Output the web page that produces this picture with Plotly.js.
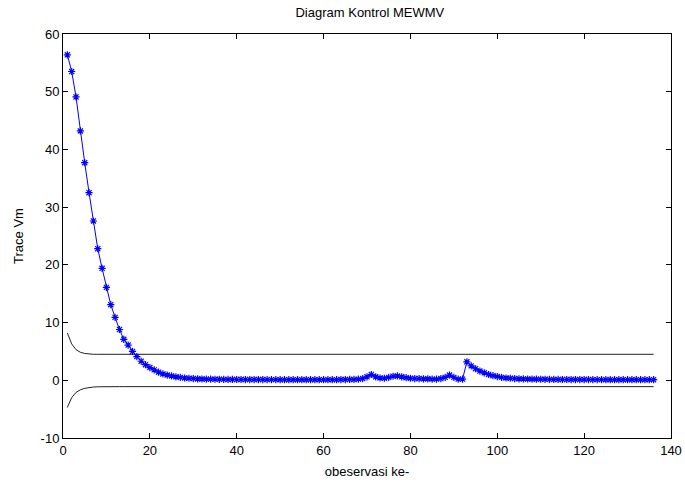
<!DOCTYPE html>
<html>
<head>
<meta charset="utf-8">
<script src="https://cdn.plot.ly/plotly-3.0.1.min.js"></script>
<style>html,body{margin:0;padding:0;background:#fff;}#chart{width:685px;height:488px;}</style>
</head>
<body>
<div id="chart"></div>
<script>
// Trace Vm statistic per observation (1..136)
var traceVm = [
  56.4,53.5,49.1,43.2,37.7,32.5,27.6,22.8,19.4,16.1,
  13.1,10.9,8.8,7.1,6.1,5.0,4.1,3.3,2.7,2.2,
  1.8,1.4,1.1,0.9,0.75,0.6,0.5,0.4,0.35,0.3,
  0.25,0.22,0.2,0.2,0.18,0.17,0.16,0.15,0.15,0.14,
  0.14,0.13,0.13,0.12,0.12,0.12,0.11,0.11,0.11,0.1,
  0.1,0.1,0.1,0.1,0.1,0.1,0.1,0.1,0.1,0.1,
  0.1,0.1,0.1,0.12,0.12,0.15,0.15,0.2,0.3,0.6,
  1.0,0.6,0.4,0.35,0.5,0.7,0.75,0.6,0.45,0.35,
  0.3,0.3,0.25,0.25,0.2,0.2,0.3,0.5,0.9,0.5,
  0.2,0.2,3.2,2.5,2.0,1.6,1.3,1.0,0.8,0.65,
  0.5,0.4,0.35,0.3,0.26,0.24,0.22,0.2,0.19,0.18,
  0.17,0.16,0.15,0.15,0.14,0.14,0.13,0.13,0.12,0.12,
  0.12,0.11,0.11,0.11,0.1,0.1,0.1,0.1,0.1,0.1,
  0.1,0.1,0.1,0.1,0.1,0.1
];
// Upper control limit
var ucl = [
  8.2,6.3,5.3,4.85,4.65,4.55,4.5,4.5,4.5,4.5,
  4.5,4.5,4.5,4.5,4.5,4.5,4.5,4.5,4.5,4.5,
  4.5,4.5,4.5,4.5,4.5,4.5,4.5,4.5,4.5,4.5,
  4.5,4.5,4.5,4.5,4.5,4.5,4.5,4.5,4.5,4.5,
  4.5,4.5,4.5,4.5,4.5,4.5,4.5,4.5,4.5,4.5,
  4.5,4.5,4.5,4.5,4.5,4.5,4.5,4.5,4.5,4.5,
  4.5,4.5,4.5,4.5,4.5,4.5,4.5,4.5,4.5,4.5,
  4.5,4.5,4.5,4.5,4.5,4.5,4.5,4.5,4.5,4.5,
  4.5,4.5,4.5,4.5,4.5,4.5,4.5,4.5,4.5,4.5,
  4.5,4.5,4.5,4.5,4.5,4.5,4.5,4.5,4.5,4.5,
  4.5,4.5,4.5,4.5,4.5,4.5,4.5,4.5,4.5,4.5,
  4.5,4.5,4.5,4.5,4.5,4.5,4.5,4.5,4.5,4.5,
  4.5,4.5,4.5,4.5,4.5,4.5,4.5,4.5,4.5,4.5,
  4.5,4.5,4.5,4.5,4.5,4.5
];
// Lower control limit
var lcl = [
  -4.7,-3.0,-2.1,-1.65,-1.4,-1.25,-1.17,-1.13,-1.1,-1.1,
  -1.1,-1.1,-1.1,-1.1,-1.1,-1.1,-1.1,-1.1,-1.1,-1.1,
  -1.1,-1.1,-1.1,-1.1,-1.1,-1.1,-1.1,-1.1,-1.1,-1.1,
  -1.1,-1.1,-1.1,-1.1,-1.1,-1.1,-1.1,-1.1,-1.1,-1.1,
  -1.1,-1.1,-1.1,-1.1,-1.1,-1.1,-1.1,-1.1,-1.1,-1.1,
  -1.1,-1.1,-1.1,-1.1,-1.1,-1.1,-1.1,-1.1,-1.1,-1.1,
  -1.1,-1.1,-1.1,-1.1,-1.1,-1.1,-1.1,-1.1,-1.1,-1.1,
  -1.1,-1.1,-1.1,-1.1,-1.1,-1.1,-1.1,-1.1,-1.1,-1.1,
  -1.1,-1.1,-1.1,-1.1,-1.1,-1.1,-1.1,-1.1,-1.1,-1.1,
  -1.1,-1.1,-1.1,-1.1,-1.1,-1.1,-1.1,-1.1,-1.1,-1.1,
  -1.1,-1.1,-1.1,-1.1,-1.1,-1.1,-1.1,-1.1,-1.1,-1.1,
  -1.1,-1.1,-1.1,-1.1,-1.1,-1.1,-1.1,-1.1,-1.1,-1.1,
  -1.1,-1.1,-1.1,-1.1,-1.1,-1.1,-1.1,-1.1,-1.1,-1.1,
  -1.1,-1.1,-1.1,-1.1,-1.1,-1.1
];
var xTickVals = [0,20,40,60,80,100,120,140];
var yTickVals = [-10,0,10,20,30,40,50,60];
var obs = traceVm.map(function(_, i){ return i + 1; });

var font = {family: 'Liberation Sans, Arial, sans-serif', size: 13, color: '#000'};

var traces = [
  {x: obs, y: ucl, type: 'scatter', mode: 'lines', line: {color: '#222', width: 1}, hoverinfo: 'skip'},
  {x: obs, y: lcl, type: 'scatter', mode: 'lines', line: {color: '#222', width: 1}, hoverinfo: 'skip'},
  {x: obs, y: traceVm, type: 'scatter', mode: 'lines+markers',
   line: {color: '#0000ff', width: 1},
   marker: {symbol: 'asterisk-open', size: 6, color: '#0000ff', line: {color: '#0000ff', width: 1.2}}}
];

var axisCommon = {
  showgrid: false, zeroline: false, showline: true, linecolor: '#000', linewidth: 1,
  mirror: 'ticks', ticks: 'inside', ticklen: 5, tickcolor: '#000', tickwidth: 1,
  tickfont: font
};

var layout = {
  width: 685, height: 488,
  margin: {l: 63, r: 14, t: 34, b: 50},
  paper_bgcolor: '#fff', plot_bgcolor: '#fff',
  showlegend: false,
  font: font,
  title: {text: 'Diagram Kontrol MEWMV', font: {family: font.family, size: 13, color: '#000'},
          x: 0.54, xanchor: 'center', y: 0.975, yanchor: 'middle'},
  xaxis: Object.assign({}, axisCommon, {
    range: [0, 140], tickvals: xTickVals, ticktext: xTickVals.map(String),
    title: {text: 'obeservasi ke-', font: font, standoff: 10}
  }),
  yaxis: Object.assign({}, axisCommon, {
    range: [-10, 60], tickvals: yTickVals, ticktext: yTickVals.map(String),
    title: {text: 'Trace Vm', font: font, standoff: 14}
  })
};

Plotly.newPlot('chart', traces, layout, {displayModeBar: false, staticPlot: true});
</script>
</body>
</html>
